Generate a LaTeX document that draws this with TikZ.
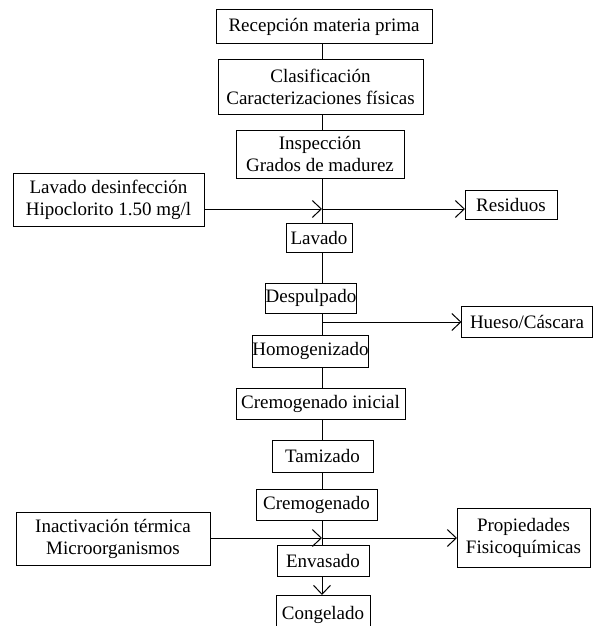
\documentclass[tikz,border=0pt]{standalone}
\usepackage{fontspec}
\setmainfont{Liberation Serif}
\usepackage{tikz}
\usetikzlibrary{arrows.meta}
\usetikzlibrary{calc,positioning}

\begin{document}
\begin{tikzpicture}[x=1pt,y=-1pt]
\tikzstyle{box}=[draw,line width=1pt,inner sep=0pt,outer sep=0pt,align=center,font=\fontsize{19}{22}\selectfont]
\tikzstyle{line}=[line width=1pt]
\tikzstyle{flow}=[line width=1pt,-{Straight Barb[length=9pt,width=17pt,line width=1pt]}]

% PAGE
\useasboundingbox (0,0) rectangle (594,626);
\clip (0,0) rectangle (594,626);

% MAIN LINE
\coordinate (trunk) at (322,0);

% BOXES
\node (rec) [box,minimum width=216pt,minimum height=34pt] at (324,27) {Recepción materia prima};
\node (clas) [box,minimum width=205pt,minimum height=54pt] at (320.5,87) {Clasificación\\Caracterizaciones físicas};
\node (insp) [box,minimum width=168pt,minimum height=48pt] at (320,154) {Inspección\\Grados de madurez};
\node (lavdes) [box,minimum width=191pt,minimum height=53pt] at (108.5,199.5) {Lavado desinfección\\Hipoclorito 1.50 mg/l};
\node (resid) [box,minimum width=92pt,minimum height=29pt] at (511,204.5) {Residuos};
\node (lav) [box,minimum width=66pt,minimum height=29pt] at (319,237.5) {Lavado};
\node (desp) [box,minimum width=86pt,minimum height=30pt] at (311,298) {Despulpado};
\node (hueso) [box,minimum width=131pt,minimum height=31pt] at (527,321.5) {Hueso/Cáscara};
\node (homo) [box,minimum width=95pt,minimum height=32pt] at (310.5,351) {Homogenizado};
\node (creini) [box,minimum width=169pt,minimum height=31pt] at (320.5,403.5) {Cremogenado inicial};
\node (tam) [box,minimum width=101pt,minimum height=32pt] at (322.5,456) {Tamizado};
\node (crem) [box,minimum width=121pt,minimum height=31pt] at (316.5,504.5) {Cremogenado};
\node (inact) [box,minimum width=194pt,minimum height=53pt] at (113,538.5) {Inactivación térmica\\Microorganismos};
\node (prop) [box,minimum width=133pt,minimum height=59pt] at (523.5,537.5) {Propiedades\\Fisicoquímicas};
\node (env) [box,minimum width=92pt,minimum height=31pt] at (323,560.5) {Envasado};
\node (cong) [box,minimum width=94pt,minimum height=40pt] at (323,615) {Congelado};

% JUNCTIONS
\coordinate (j1) at (322,209);
\coordinate (j2) at (322,322);
\coordinate (j3) at (322,538);

% VERTICAL LINKS
\draw [line] (rec.south -| trunk) -- (clas.north -| trunk);
\draw [line] (clas.south -| trunk) -- (insp.north -| trunk);
\draw [line] (insp.south -| trunk) -- (lav.north -| trunk);
\draw [line] (lav.south -| trunk) -- (desp.north -| trunk);
\draw [line] (desp.south -| trunk) -- (homo.north -| trunk);
\draw [line] (homo.south -| trunk) -- (creini.north -| trunk);
\draw [line] (creini.south -| trunk) -- (tam.north -| trunk);
\draw [line] (tam.south -| trunk) -- (crem.north -| trunk);
\draw [line] (crem.south -| trunk) -- (env.north -| trunk);
\draw [flow] (env.south -| trunk) -- (cong.north -| trunk);

% SIDE ARROWS
\draw [flow] (lavdes.east |- j1) -- (j1);
\draw [flow] (j1) -- (resid.west |- j1);
\draw [flow] (j2) -- (hueso.west |- j2);
\draw [flow] (inact.east |- j3) -- (j3);
\draw [flow] (j3) -- (prop.west |- j3);

\end{tikzpicture}
\end{document}
